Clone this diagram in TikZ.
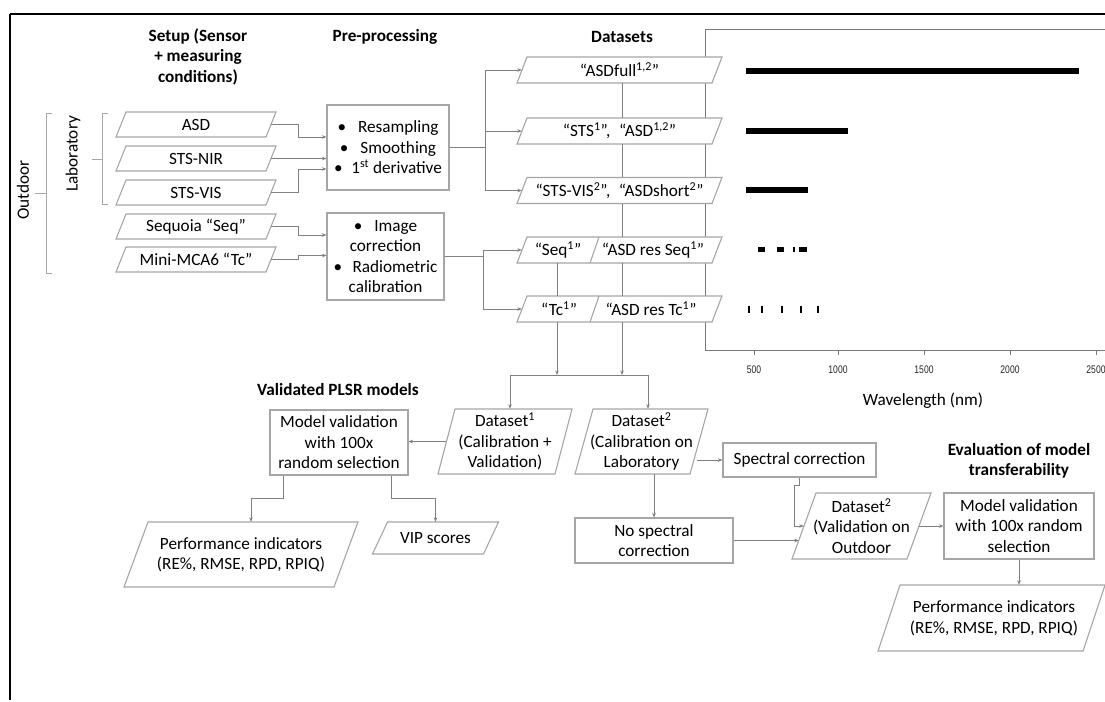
\documentclass[tikz,border=0pt]{standalone}
\usepackage{fontspec}
\setmainfont{Carlito}
\newfontfamily\axisfont{Liberation Sans}
\usetikzlibrary{arrows.meta,calc}
\definecolor{boxgray}{RGB}{166,166,166}
\definecolor{conngray}{RGB}{128,128,128}
\definecolor{axisgray}{RGB}{120,120,120}
% #1 name, #2 x, #3 y, #4 edge length, #5 height, #6 slant, #7 text
\newcommand{\mkpara}[7]{%
  \filldraw[pline] ({#2-#4/2-#6/2},{#3+#5/2}) -- ({#2-#4/2+#6/2},{#3-#5/2}) -- ({#2+#4/2+#6/2},{#3-#5/2}) -- ({#2+#4/2-#6/2},{#3+#5/2}) -- cycle;
  \node[ptext, minimum width=#4pt, minimum height=#5pt] (#1) at (#2,#3) {#7};
}
\begin{document}
\begin{tikzpicture}[x=1pt,y=-1pt,
  every node/.style={font=\fontsize{17.2}{20.5}\selectfont, text=black},
  box/.style={draw=boxgray, line width=1.1pt, fill=white, inner sep=0pt, align=center},
  pline/.style={draw=boxgray, line width=1.1pt, fill=white},
  ptext/.style={inner sep=0pt, align=center},
  conn/.style={draw=conngray, line width=1pt, -{Stealth[length=4.5pt,width=3.6pt]}},
  link/.style={draw=conngray, line width=1pt},
  title/.style={font=\bfseries\fontsize{17.2}{20.5}\selectfont, align=center},
  brk/.style={draw=boxgray, line width=1pt},
  ticklab/.style={font=\axisfont\fontsize{11}{11}\selectfont, text=black!85},
]
\useasboundingbox (0,0) rectangle (1105,701);
\fill[white] (0,0) rectangle (1105,701);

% outer black border
\draw[line width=2pt] (10,14) -- (1105,14);
\draw[line width=1.3pt] (10,14) -- (10,678);
\draw[line width=2.8pt] (10,678) -- (10,700);

% chart frame and axis
\draw[axisgray, line width=1pt] (1105,30) -- (705,30) -- (705,350) -- (1105,350);
\foreach \x/\l in {754/500,838/1000,924/1500,1010/2000,1096/2500}{
  \draw[axisgray, line width=0.8pt] (\x,350) -- (\x,355);
  \node[ticklab] (t\l) at (\x,370) {\scalebox{0.78}[1]{\l}};
}
\node (wl) at (923,401) {Wavelength (nm)};
% wavelength bars
\fill (745.5,68) rectangle (1079,74);
\fill (745.5,128) rectangle (848,134);
\fill (745.5,187) rectangle (808,193);
\fill (758,246.5) rectangle (765,251.5);
\fill (777,246.5) rectangle (784,251.5);
\fill (793,246.5) rectangle (795,251.5);
\fill (799,246.5) rectangle (807,251.5);
\foreach \x in {749,762,782,801,818}{\fill (\x-1,305.5) rectangle (\x+1,312.5);}

% titles
\node[title] (setupT) at (198,56.5) {Setup (Sensor\\+ measuring\\conditions)};
\node[title] (preT) at (385,37) {Pre-processing};
\node[title] (dataT) at (622,37) {Datasets};
\node[title] (valT) at (338,390) {Validated PLSR models};
\node[title] (evalT) at (1019,461) {Evaluation of model\\transferability};

% brackets
\draw[brk] (52,113) -- (46,113) -- (46,273) -- (52,273);
\draw[brk] (46,193) -- (35,193);
\node[rotate=90] (outT) at (23,190) {Outdoor};
\draw[brk] (108,113) -- (102,113) -- (102,204) -- (108,204);
\draw[brk] (102,159) -- (92,159);
\node[rotate=90] (labT) at (73,154) {Laboratory};

% sensors
\mkpara{asd}{196}{124.5}{150}{25}{10}{ASD}
\mkpara{nir}{196}{158.5}{150}{25}{10}{STS-NIR}
\mkpara{vis}{196}{192.5}{150}{25}{10}{STS-VIS}
\mkpara{seq}{196}{226.5}{150}{25}{10}{Sequoia “Seq”}
\mkpara{tc}{196}{259.5}{150}{25}{10}{Mini-MCA6 “Tc”}

% pre-processing
\node[box, minimum width=122pt, minimum height=85pt] (pre1) at (388,147.5)
  {•\hspace{0.7em}Resampling\\•\hspace{0.7em}Smoothing\\•\hspace{0.5em}1\textsuperscript{st} derivative};
\node[box, minimum width=117pt, minimum height=87pt] (pre2) at (385.5,256.5)
  {•\hspace{0.7em}Image\\correction\\•\hspace{0.6em}Radiometric\\calibration};

% datasets
\mkpara{d1}{619.5}{70}{195}{26}{10}{“ASDfull\textsuperscript{1,2}”}
\mkpara{d2}{619.5}{131}{195}{26}{10}{“STS\textsuperscript{1}”,\enspace“ASD\textsuperscript{1,2}”}
\mkpara{d3}{619.5}{190.5}{195}{26}{10}{“STS-VIS\textsuperscript{2}”,\enspace“ASDshort\textsuperscript{2}”}
\mkpara{d4}{619.5}{250}{195}{26}{10}{}
\mkpara{d5}{619.5}{309}{195}{26}{10}{}
\draw[pline] (599,237) -- (590,263);
\draw[pline] (599,296) -- (590,322);
\node (d4a) at (558,250) {“Seq\textsuperscript{1}”};
\node (d4b) at (653,250) {“ASD res Seq\textsuperscript{1}”};
\node (d5a) at (559,309) {“Tc\textsuperscript{1}”};
\node (d5b) at (651,309) {“ASD res Tc\textsuperscript{1}”};

% connectors sensors -> pre-processing
\draw[conn] (asd.east) -- ++(27,0) |- ([yshift=10.5pt]pre1.west);
\draw[conn] (nir.east) -- (nir.east -| pre1.west);
\draw[conn] (vis.east) -- ++(27,0) |- ([yshift=-21.5pt]pre1.west);
\draw[conn] (seq.east) -- ++(27,0) |- ([yshift=21.5pt]pre2.west);
\draw[conn] (tc.east) -- ++(27,0) |- ([yshift=1pt]pre2.west);

% pre-processing -> datasets
\draw[conn] (pre1.east) -- ++(36,0) |- (d1.west);
\draw[conn] (pre1.east) -- ++(36,0) |- (d2.west);
\draw[conn] (pre1.east) -- ++(36,0) |- (d3.west);
\draw[conn] (pre2.east) -- ++(39,0) |- (d4.west);
\draw[conn] (pre2.east) -- ++(39,0) |- (d5.west);

% dataset column lines
\coordinate (vL) at (557,0);
\coordinate (vC) at (622,0);
\coordinate (hj) at (0,375);
\draw[link] (d1.south -| vC) -- (d2.north -| vC);
\draw[link] (d2.south -| vC) -- (d3.north -| vC);
\draw[link] (d3.south -| vC) -- (d4.north -| vC);
\draw[link] (d4.south -| vC) -- (d5.north -| vC);
\draw[conn] (d5.south -| vC) -- (hj -| vC);
\draw[link] (d4.south -| vL) -- (d5.north -| vL);
\draw[conn] (d5.south -| vL) -- (hj -| vL);

% lower part
\mkpara{ds1}{505}{441.5}{117}{65}{17}{Dataset\textsuperscript{1}\\(Calibration +\\Validation)}
\mkpara{ds2}{641.5}{441.5}{115}{65}{18}{Dataset\textsuperscript{2}\\(Calibration on\\Laboratory}
\mkpara{ds3}{861.5}{526}{115}{66}{24}{Dataset\textsuperscript{2}\\(Validation on\\Outdoor}
\mkpara{perf1}{241}{554.5}{210}{65}{24}{Performance indicators\\(RE\%, RMSE, RPD, RPIQ)}
\mkpara{vip}{435.5}{538}{111}{32}{15}{VIP scores}
\mkpara{perf2}{991.5}{618}{205}{66}{22}{\hspace*{5pt}Performance indicators\\\hspace*{5pt}(RE\%, RMSE, RPD, RPIQ)}

\node[box, minimum width=138pt, minimum height=65pt] (mv1) at (339,442.5) {Model validation\\with 100x\\random selection};
\node[box, minimum width=153pt, minimum height=34pt] (spec) at (799.5,460) {Spectral correction};
\node[box, minimum width=158pt, minimum height=45pt] (nospec) at (654,540.5) {No spectral\\correction};
\node[box, minimum width=150pt, minimum height=66pt] (mv2) at (1019,526) {Model validation\\with 100x random\\selection};

\coordinate (jl) at (510,375);
\coordinate (jr) at (648,375);
\draw[link] (jl) -- (jr);
\draw[conn] (jl) -- (jl |- ds1.north);
\draw[conn] (jr) -- (jr |- ds2.north);

\draw[conn] (ds1.west) -- (ds1.west -| mv1.east);
\draw[conn] ([xshift=-56pt]mv1.south) -- ++(0,23) -| ([xshift=10pt]perf1.north);
\draw[conn] ([xshift=52pt]mv1.south) -- ++(0,23) -| (vip.north);

\draw[conn] ([xshift=-2pt]ds2.east |- spec.west) -- (spec.west);
\draw[conn] (nospec.north |- ds2.south) -- (nospec.north);
\draw[conn] (nospec.east) -- ([xshift=-5pt]ds3.west |- nospec.east);
\draw[conn] (spec.south) -- ++(0,8) -- ++(-5,0) |- (ds3.west);
\draw[conn] (ds3.east) -- (mv2.west);
\draw[conn] (mv2.south) -- (mv2.south |- perf2.north);
\end{tikzpicture}
\end{document}
